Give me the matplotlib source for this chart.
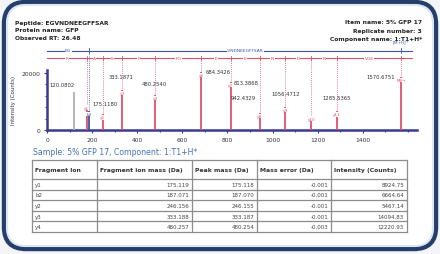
import matplotlib
matplotlib.use("Agg")
import matplotlib.pyplot as plt
import matplotlib.transforms as mtransforms
from matplotlib.patches import FancyBboxPatch
from matplotlib.ticker import MultipleLocator

# ---------------- data ----------------
peptide = "EGVNDNEEGFFSAR"
protein_name = "GFP"
observed_rt = "26.48"
item_name = "5% GFP 17"
replicate_number = "3"
component_name = "1:T1+H*"

peak_mz = [120.0802, 175.1180, 187.0700, 246.1550, 333.1871, 480.2540,
           684.3426, 813.3868, 942.4329, 1056.4712, 1171.5000, 1285.5365, 1570.6751]
peak_int = [13500, 8924.75, 6664.64, 5467.14, 14094.83, 12220.93,
            20400, 16800, 6000, 8000, 5000, 6500, 18600]
peak_ion = ["", "y1", "b2", "y2", "y3", "y4", "y6", "y7", "y8", "y9", "y10", "y11", "MH+"]
peak_labelled = [True, True, False, False, True, True, True, True, True, True, False, True, True]

y_ladder_mz = [175.119, 246.156, 333.188, 480.257, 684.347, 813.389,
               942.432, 1056.475, 1171.502, 1285.545, 1570.675]
y_ladder_res = ["R", "A", "S", "F", "FG", "E", "E", "N", "D", "N", "VGE"]
b_ladder_mz = [187.071, 1570.675]
b_ladder_res = ["EG", "-VNDNEEGFFSAR"]

x_ticks = [0, 200, 400, 600, 800, 1000, 1200, 1400]
y_ticks = [0, 20000]

table_title = "Sample: 5% GFP 17, Component: 1:T1+H*"
table_header = ["Fragment Ion", "Fragment ion mass (Da)", "Peak mass (Da)",
                "Mass error (Da)", "Intensity (Counts)"]
tbl_ion = ["y1", "b2", "y2", "y3", "y4"]
tbl_frag_mass = [175.119, 187.071, 246.156, 333.188, 480.257]
tbl_peak_mass = [175.118, 187.070, 246.155, 333.187, 480.254]
tbl_mass_err = [-0.001, -0.001, -0.001, -0.001, -0.003]
tbl_intensity = [8924.75, 6664.64, 5467.14, 14094.83, 12220.93]

# ---------------- figure ----------------
W, H = 440, 255
fig = plt.figure(figsize=(W / 100, H / 100), dpi=100, facecolor="#f3f5f8")

bg = fig.add_axes([0, 0, 1, 1], zorder=0)
bg.set_xlim(0, W)
bg.set_ylim(H, 0)
bg.axis("off")
bg.add_patch(FancyBboxPatch((4, 3), 432, 247,
                            boxstyle="round,pad=0,rounding_size=22",
                            fc="white", ec="#263f6a", lw=3.2))
bg.add_patch(FancyBboxPatch((7, 6), 426, 241,
                            boxstyle="round,pad=0,rounding_size=19",
                            fc="none", ec="#dce7f3", lw=1.5))

hdr_kw = dict(fontsize=4.3, color="#222222", fontweight="bold", va="center")
for i, t in enumerate([f"Peptide: {peptide}", f"Protein name: {protein_name}",
                       f"Observed RT: {observed_rt}"]):
    bg.text(15, 23 + 8 * i, t, ha="left", **hdr_kw)
for i, t in enumerate([f"Item name: {item_name}", f"Replicate number: {replicate_number}",
                       f"Component name: {component_name}"]):
    bg.text(422, 23 + 8 * i, t, ha="right", **hdr_kw)

# ---------------- spectrum ----------------
ax = fig.add_axes([47 / W, 1 - 131 / H, (417 - 47) / W, 60 / H], zorder=2)
ax.patch.set_alpha(0)
ax.set_xlim(0, 1640)
ax.set_ylim(0, 21050)
axis_col = "#3a3a8e"
for s in ["top", "right"]:
    ax.spines[s].set_visible(False)
for s in ["left", "bottom"]:
    ax.spines[s].set_color(axis_col)
    ax.spines[s].set_linewidth(1.8)
ax.set_xticks(x_ticks)
ax.set_yticks(y_ticks)
ax.xaxis.set_minor_locator(MultipleLocator(100))
ax.yaxis.set_minor_locator(MultipleLocator(4000))
ax.tick_params(which="both", colors=axis_col, labelcolor="#333333", labelsize=4.3,
               length=2, width=0.8, pad=3)
ax.tick_params(which="minor", length=1.5)
ax.set_ylabel("Intensity (Counts)", fontsize=4.0, color="#333333", labelpad=4)

col_y, col_b, col_u = "#e0506a", "#3a55a8", "#b0b0b0"
def ion_color(ion):
    if ion.startswith("b"):
        return col_b
    if ion == "":
        return col_u
    return col_y

colors = [ion_color(i) for i in peak_ion]
ax.vlines(peak_mz, 0, peak_int, colors=colors, lw=1.3, zorder=3)

# ladders (x in data, y in axes fraction)
tr = mtransforms.blended_transform_factory(ax.transData, ax.transAxes)
y_red = (131 - 59) / 60
y_blue = (131 - 51.5) / 60
ax.plot([0, 1620], [y_red, y_red], color=col_y, lw=0.8, transform=tr, clip_on=False)
ax.plot([0, 1620], [y_blue, y_blue], color=col_b, lw=0.8, transform=tr, clip_on=False)

prev = 0
for m, r in zip(y_ladder_mz, y_ladder_res):
    ax.plot([m, m], [y_red - 0.04, y_red + 0.04], color=col_y, lw=0.6, transform=tr, clip_on=False)
    ax.text((prev + m) / 2, y_red, r, fontsize=3.2, color=col_y, ha="center", va="center",
            transform=tr, bbox=dict(fc="white", ec="none", pad=0.3))
    prev = m
prev = 0
for m, r in zip(b_ladder_mz, b_ladder_res):
    ax.plot([m, m], [y_blue - 0.04, y_blue + 0.04], color=col_b, lw=0.6, transform=tr, clip_on=False)
    ax.text((prev + m) / 2, y_blue, r, fontsize=3.2, color=col_b, ha="center", va="center",
            transform=tr, bbox=dict(fc="white", ec="none", pad=0.3))
    prev = m
ax.text(1570.675, y_blue + 0.05, "[M+H]$^+$", fontsize=3.0, color=col_b, ha="center",
        va="bottom", transform=tr)

# dotted guides from ladders to peaks
ylim_top = ax.get_ylim()[1]
for m, h, ion in zip(peak_mz, peak_int, peak_ion):
    if ion == "":
        continue
    top = y_blue if ion.startswith("b") else y_red
    ax.plot([m, m], [h / ylim_top, top], color=ion_color(ion), lw=0.6, ls=(0, (1, 1.5)),
            transform=tr, clip_on=False, zorder=2)

# peak number labels: (dx px, dy px, ha)
label_place = {
    "": (1, 7, "right"), "y1": (6, 1, "left"), "y3": (-1, 13, "center"),
    "y4": (-1, 12, "center"), "y6": (4, 0, "left"), "y7": (3, 0, "left"),
    "y8": (-4, 15, "right"), "y9": (0, 14, "center"), "y11": (0, 14, "center"),
    "MH+": (-6, 0, "right"),
}
for m, h, ion, lab in zip(peak_mz, peak_int, peak_ion, peak_labelled):
    if ion:
        ax.annotate(ion, (m, h), xytext=(0, -1), textcoords="offset pixels",
                    fontsize=3.0, color=ion_color(ion), ha="center", va="top",
                    bbox=dict(fc="white", ec="none", pad=0.2), zorder=4)
    if lab:
        dx, dy, ha = label_place[ion]
        ax.annotate(f"{m:.4f}", (m, h), xytext=(dx, dy), textcoords="offset pixels",
                    fontsize=3.8, color="#333333", ha=ha, va="center", zorder=4,
                    annotation_clip=False)

# ---------------- table ----------------
bg.text(33, 153, table_title, fontsize=5.6, color="#4472b4", ha="left", va="center")
col_edges = [32, 97, 192, 257, 331, 407]
row_edges = [161, 180, 190.6, 201.2, 211.8, 222.4, 233]
grid_col = "#8c8c8c"
for x in col_edges:
    bg.plot([x, x], [row_edges[0], row_edges[-1]], color=grid_col, lw=0.9)
for y in row_edges:
    bg.plot([col_edges[0], col_edges[-1]], [y, y], color=grid_col, lw=0.9)
hy = (row_edges[0] + row_edges[1]) / 2
for i, t in enumerate(table_header):
    bg.text(col_edges[i] + 3, hy, t, fontsize=4.4, fontweight="bold", color="#333333",
            ha="left", va="center")
rows = zip(tbl_ion, tbl_frag_mass, tbl_peak_mass, tbl_mass_err, tbl_intensity)
for r, (ion, fm, pm, me, it) in enumerate(rows):
    yc = (row_edges[r + 1] + row_edges[r + 2]) / 2
    cells = [ion, f"{fm:.3f}", f"{pm:.3f}", f"{me:.3f}", f"{it:.2f}"]
    for c, t in enumerate(cells):
        if c == 0:
            bg.text(col_edges[0] + 3, yc, t, fontsize=4.0, color="#444444", ha="left", va="center")
        else:
            bg.text(col_edges[c + 1] - 3, yc, t, fontsize=4.0, color="#444444", ha="right", va="center")

fig.savefig("out.png", dpi=100, facecolor=fig.get_facecolor())
